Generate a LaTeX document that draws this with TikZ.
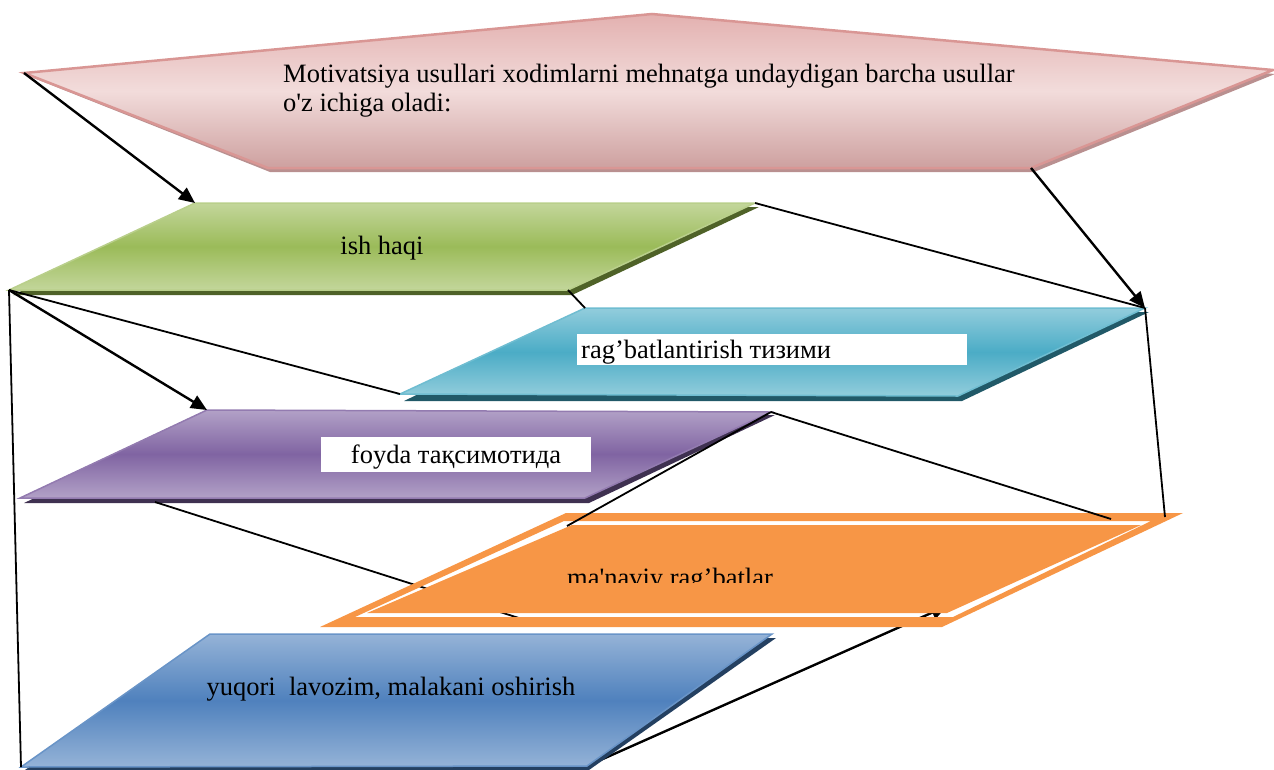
\documentclass[tikz,border=0pt]{standalone}
\usepackage{fontspec}
\setmainfont{Liberation Serif}
\usetikzlibrary{arrows.meta}
\definecolor{pinkA}{HTML}{E3B1B0}
\definecolor{pinkB}{HTML}{F2DCDB}
\definecolor{pinkLine}{HTML}{D99694}
\definecolor{pinkShadow}{HTML}{B99090}
\definecolor{greenA}{HTML}{C3D69B}
\definecolor{greenB}{HTML}{9BBB59}
\definecolor{greenD}{HTML}{4F6228}
\definecolor{cyanA}{HTML}{92CDDC}
\definecolor{cyanB}{HTML}{4BACC6}
\definecolor{cyanD}{HTML}{215968}
\definecolor{purA}{HTML}{B2A1C7}
\definecolor{purB}{HTML}{8064A2}
\definecolor{purD}{HTML}{3F3151}
\definecolor{bluA}{HTML}{95B3D7}
\definecolor{bluB}{HTML}{4F81BD}
\definecolor{bluD}{HTML}{244061}
\definecolor{orng}{HTML}{F79646}
\begin{document}
\begin{tikzpicture}[x=1pt,y=-1pt,
  conn/.style={draw=black, line width=1.8pt},
  arr/.style={draw=black, line width=2.4pt, -{Triangle[length=16pt,width=14pt]}},
  lbl/.style={font=\fontsize{26.5}{28.5}\selectfont, inner sep=0pt, text=black},
  wbox/.style={fill=white, draw=none}]
\useasboundingbox (0,0) rectangle (1274,769);

% corner coordinates
\coordinate (pL) at (24,73);  \coordinate (pT) at (652,14); \coordinate (pR) at (1273,70);
\coordinate (pBR) at (1031,168); \coordinate (pBL) at (268,168);
\coordinate (gTL) at (195,203); \coordinate (gTR) at (755,203);
\coordinate (gBR) at (568,290); \coordinate (gBL) at (9,290);
\coordinate (cTL) at (585,308); \coordinate (cTR) at (1145,308);
\coordinate (cBR) at (958,396); \coordinate (cBL) at (400,394);
\coordinate (uTL) at (207,410); \coordinate (uTR) at (771,412);
\coordinate (uBR) at (585,498); \coordinate (uBL) at (20,498);
\coordinate (uBot) at (155,502);
\coordinate (oTL) at (566,513); \coordinate (oTR) at (1183,513);
\coordinate (oBR) at (942,627); \coordinate (oBL) at (320,627);
\coordinate (oTop) at (1165,517); \coordinate (oInTR) at (1111,519);
\coordinate (oInTL) at (567,526); \coordinate (oInBL) at (522,619);
\coordinate (oInBR) at (947,606);
\coordinate (bTL) at (210,634); \coordinate (bTR) at (772,634);
\coordinate (bBR) at (587,766); \coordinate (bBL) at (21,767);

% pentagon
\fill[pinkShadow] (26,75) -- (654,18) -- (1275,74) -- (1034,172) -- (270,172) -- cycle;
\shade[top color=pinkA, bottom color=pinkA!90!black!95!pinkA, middle color=pinkB]
  (pL) -- (pT) -- (pR) -- (pBR) -- (pBL) -- cycle;
\draw[pinkLine, line width=2.5pt, line join=miter]
  (pL) -- (pT) -- (pR) -- (pBR) -- (pBL) -- cycle;
\node[lbl, anchor=base west, align=left] (tP) at (283,111)
  {Motivatsiya usullari xodimlarni mehnatga undaydigan barcha usullar\\o\textquotesingle z ichiga oladi:};

% green
\fill[greenD] (199,207) -- (759,207) -- (572,295) -- (13,295) -- cycle;
\shade[top color=greenA, bottom color=greenA, middle color=greenB]
  (gTL) -- (gTR) -- (gBR) -- (gBL) -- cycle;
\draw[greenB!70!white, line width=1.5pt] (gTL) -- (gTR) -- (gBR) -- (gBL) -- cycle;
\node[lbl, anchor=base] (tG) at (382,254) {ish haqi};

% cyan
\fill[cyanD] (589,312) -- (1149,312) -- (962,401) -- (404,401) -- cycle;
\shade[top color=cyanA, bottom color=cyanA, middle color=cyanB]
  (cTL) -- (cTR) -- (cBR) -- (cBL) -- cycle;
\draw[cyanB!80!white, line width=1.5pt] (cTL) -- (cTR) -- (cBR) -- (cBL) -- cycle;
\fill[wbox] (577,334) rectangle (967,365);
\node[lbl, anchor=base west] (tC) at (581,358) {rag’batlantirish тизими};

% purple
\fill[purD] (211,415) -- (775,415) -- (589,503) -- (24,503) -- cycle;
\shade[top color=purA, bottom color=purA, middle color=purB]
  (uTL) -- (uTR) -- (uBR) -- (uBL) -- cycle;
\draw[purB!85!white, line width=1.5pt] (uTL) -- (uTR) -- (uBR) -- (uBL) -- cycle;
\fill[wbox] (321,437) rectangle (591,472);
\node[lbl, anchor=base] (tU) at (456,463) {foyda тақсимотида};

% lines running under the orange shape
\draw[conn] (uBot) -- (oInBL);
\draw[arr] (bBR) -- (oInBR);

% orange (double outline with a see-through gap)
\fill[orng, even odd rule]
  (oTL) -- (oTR) -- (oBR) -- (oBL) -- cycle
  (564,521) -- (1151,521) -- (953,617) -- (355,617) -- cycle
  (572,525) -- (1141,525) -- (947,613) -- (367,613) -- cycle;
\begin{scope}
  \clip (0,0) rectangle (1274,582);
  \node[lbl, anchor=base west] (tO) at (567,586) {ma\textquotesingle naviy rag’batlar};
\end{scope}

% blue
\fill[bluD] (214,638) -- (776,638) -- (589,770) -- (25,770) -- cycle;
\shade[top color=bluA, bottom color=bluA, middle color=bluB]
  (bTL) -- (bTR) -- (bBR) -- (bBL) -- cycle;
\draw[bluB!85!white, line width=1.5pt] (bTL) -- (bTR) -- (bBR) -- (bBL) -- cycle;
\node[lbl, anchor=base] (tB) at (391,695) {yuqori\ \ lavozim, malakani oshirish};

% connectors
\draw[arr] (pL) -- (gTL);
\draw[arr] (pBR) -- (cTR);
\draw[conn] (gTR) -- (cTR);
\draw[conn] (gBL) -- (cBL);
\draw[arr] (gBL) -- (uTL);
\draw[conn] (gBL) -- (bBL);
\draw[conn] (gBR) -- (cTL);
\draw[conn] (cTR) -- (oTop);
\draw[conn] (uTR) -- (oInTR);
\draw[conn] (uTR) -- (oInTL);
\end{tikzpicture}
\end{document}
